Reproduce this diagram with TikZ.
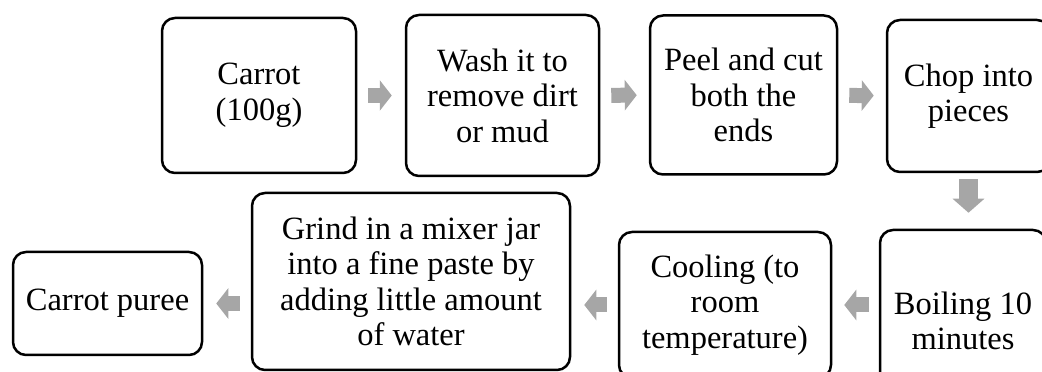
\documentclass[tikz,border=0pt]{standalone}
\usepackage{fontspec}
\setmainfont{Liberation Serif}
\usetikzlibrary{arrows.meta}
\definecolor{arrowgray}{RGB}{166,166,166}
\tikzset{
  stepbox/.style={draw, line width=2.5pt, rounded corners=13pt, align=center, inner sep=0pt, font=\fontsize{32.5}{35.5}\selectfont},
  flowarrow/.style={arrowgray, line width=15pt, -{Triangle[length=12pt,width=30pt]}, shorten <=11pt, shorten >=12pt}
}
\begin{document}
\begin{tikzpicture}[x=1pt,y=1pt]
\useasboundingbox (0,0) rectangle (1042,372);
% top row
\node[stepbox, minimum width=194pt, minimum height=155pt] (carrot) at (259,276.5) {Carrot\\(100g)};
\node[stepbox, minimum width=193pt, minimum height=161pt] (wash) at (502.5,276.5) {Wash it to\\remove dirt\\or mud};
\node[stepbox, minimum width=187pt, minimum height=159pt] (peel) at (743.5,277) {Peel and cut\\both the\\ends};
\node[stepbox, minimum width=163pt, minimum height=152pt] (chop) at (968.5,276) {Chop into\\pieces};
% bottom row
\node[stepbox, minimum width=166pt, minimum height=182pt] (boil) at (963,51) {Boiling 10\\minutes};
\node[stepbox, minimum width=212pt, minimum height=146pt] (cool) at (725,67) {Cooling (to\\room\\temperature)};
\node[stepbox, minimum width=318pt, minimum height=177pt] (grind) at (411,90.5) {Grind in a mixer jar\\into a fine paste by\\adding little amount\\of water};
\node[stepbox, minimum width=189pt, minimum height=103pt] (puree) at (107.5,68.5) {Carrot puree};
% arrows
\draw[flowarrow, shorten >=13pt] (carrot) -- (wash);
\draw[flowarrow] (wash) -- (peel);
\draw[flowarrow] (peel) -- (chop);
\draw[flowarrow, line width=19pt, -{Triangle[length=14pt,width=31pt]}, shorten <=6pt, shorten >=16pt] (chop.south) -- (chop.south |- boil.north);
\draw[flowarrow, shorten <=10pt] (boil.west |- cool.east) -- (cool.east);
\draw[flowarrow, shorten >=13pt] (cool.west) -- (cool.west -| grind.east);
\draw[flowarrow, shorten >=13pt] (grind.west |- puree.east) -- (puree.east);
\end{tikzpicture}
\end{document}
